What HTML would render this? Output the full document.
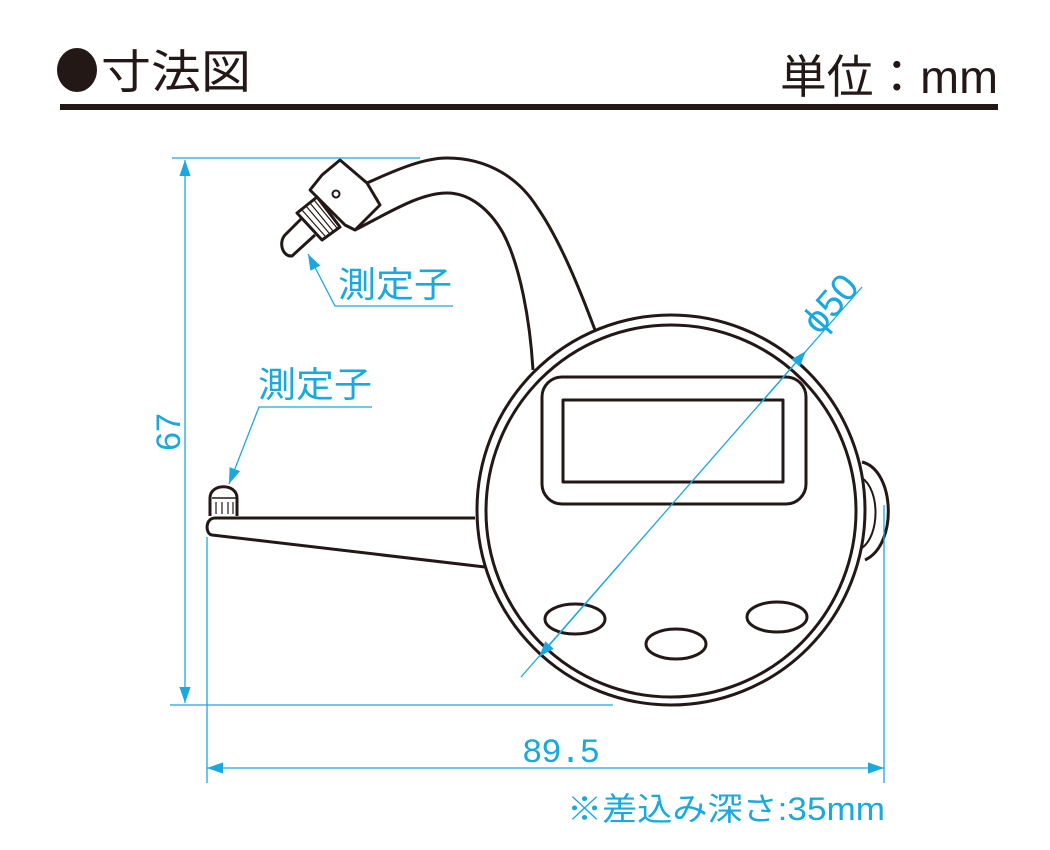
<!DOCTYPE html>
<html><head><meta charset="utf-8"><style>
html,body{margin:0;padding:0;background:#fff;width:1050px;height:850px;overflow:hidden}
svg{display:block}
.j{font-family:"Liberation Sans","Noto Sans CJK JP",sans-serif}
</style></head><body>
<svg width="1050" height="850" viewBox="0 0 1050 850" xmlns="http://www.w3.org/2000/svg">
<defs>
<marker id="a" viewBox="0 0 10 10" refX="10" refY="5" markerWidth="16" markerHeight="16" markerUnits="userSpaceOnUse" orient="auto-start-reverse"><path d="M0,1.5 L10,5 L0,8.5z" fill="#1aa8e0"/></marker>
</defs>
<!-- header -->
<ellipse cx="77" cy="70" rx="20" ry="22" fill="#231815"/>
<text x="101" y="88" class="j" font-size="46" fill="#231815" textLength="150" lengthAdjust="spacingAndGlyphs">寸法図</text>
<text x="780" y="93" class="j" font-size="46" fill="#231815" textLength="218" lengthAdjust="spacingAndGlyphs">単位：mm</text>
<rect x="60" y="104" width="938" height="6" fill="#231815"/>

<g fill="none" stroke="#231815" stroke-width="3" stroke-linejoin="round">
<!-- upper arm -->
<path d="M367,183 C400,168 425,158 447,158 C490,158 520,180 537,207 C560,240 580,290 595,330"/>
<path d="M355,230 C390,212 420,193 447,193 C470,193 490,210 503,233 C520,265 530,320 533,370"/>
<!-- block -->
<path d="M340,160 L367,183 L380,205 L355,230 L345,225 L310,190 L322,175 Z" />
<line x1="372" y1="192" x2="378" y2="200" stroke-width="1.5"/>
<circle cx="336" cy="194" r="3.5" stroke-width="2"/>
<!-- knurl -->
<path d="M297,213 L317,197 L340,227 L322,240 Z"/>
<g stroke-width="1.2"><path d="M302,210 L325,236 M306,206 L329,233 M310,203 L333,231 M314,200 L337,228"/></g>
<!-- tip -->
<path d="M302,218 L285,235 C278,243 283,257 292,256 L315,235"/>
<!-- lower arm -->
<path d="M475,518 L215,518 C205,518 205,534 212,535 L485,567"/>
<path d="M210,516 L210,498 C210,483 237,483 237,498 L237,516"/>
<path d="M212,498 L236,498" stroke-width="1.5"/>
<g stroke-width="1.2"><path d="M216,502 V514 M222,502 V514 M228,502 V514 M233,502 V514"/></g>
<!-- side knob -->
<path d="M862,462 C895,470 898,545 865,560"/>
<path d="M862,478 C880,490 880,535 862,548" stroke-width="2"/>
<!-- dial -->
<ellipse cx="671" cy="510" rx="194" ry="195" fill="#fff"/>
<ellipse cx="671" cy="511" rx="185" ry="186"/>
<rect x="542" y="377" width="264" height="127" rx="20"/>
<rect x="563" y="400" width="220" height="82"/>
<ellipse cx="575" cy="619" rx="30" ry="15"/>
<ellipse cx="676" cy="644" rx="30" ry="15"/>
<ellipse cx="777" cy="617" rx="30" ry="15"/>
</g>

<g stroke="#1aa8e0" stroke-width="1.3" fill="none">
<!-- 67 -->
<line x1="172" y1="158" x2="420" y2="158"/>
<line x1="170" y1="705" x2="613" y2="705"/>
<line x1="185" y1="160" x2="185" y2="703" marker-start="url(#a)" marker-end="url(#a)"/>
<!-- 89.5 -->
<line x1="207" y1="537" x2="207" y2="783"/>
<line x1="884" y1="505" x2="884" y2="783"/>
<line x1="207" y1="768" x2="884" y2="768" marker-start="url(#a)" marker-end="url(#a)"/>
<!-- phi50 -->
<line x1="521" y1="677" x2="862" y2="287"/>
<line x1="620" y1="564" x2="539" y2="657" marker-end="url(#a)"/>
<line x1="760" y1="404" x2="806" y2="351" marker-end="url(#a)"/>
<!-- leaders -->
<polyline points="453,306 335,306 308,254" marker-end="url(#a)"/>
<polyline points="372,407 259,407 229,484" marker-end="url(#a)"/>
</g>
<g fill="#1aa8e0" class="j">
<text x="338" y="297" font-size="35" textLength="114" lengthAdjust="spacingAndGlyphs">測定子</text>
<text x="258" y="397" font-size="35" textLength="114" lengthAdjust="spacingAndGlyphs">測定子</text>
<text transform="translate(180,432) rotate(-90)" font-size="34" text-anchor="middle">67</text>
<text x="561" y="762" font-size="34" text-anchor="middle" font-family="Liberation Mono,monospace" textLength="78">89.5</text>
<text transform="translate(840,312) rotate(-49)" font-size="38" text-anchor="middle">ϕ50</text>
<text x="567" y="820" font-size="32" textLength="318" lengthAdjust="spacingAndGlyphs">※差込み深さ:35mm</text>
</g>
</svg>
</body></html>
